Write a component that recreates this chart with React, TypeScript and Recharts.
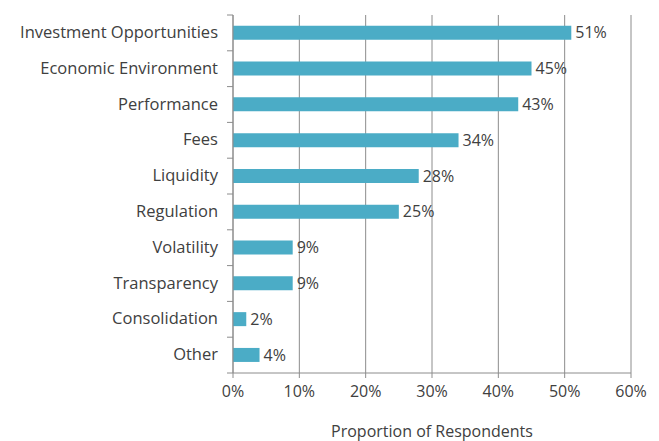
import React from 'react';
import { BarChart, Bar, XAxis, YAxis, CartesianGrid, LabelList } from 'recharts';

const categories = [
  'Investment Opportunities',
  'Economic Environment',
  'Performance',
  'Fees',
  'Liquidity',
  'Regulation',
  'Volatility',
  'Transparency',
  'Consolidation',
  'Other',
];
const shares = [51, 45, 43, 34, 28, 25, 9, 9, 2, 4];
const xTicks = [0, 10, 20, 30, 40, 50, 60];

const data = categories.map((name, i) => ({ name, value: shares[i] }));

const FONT = '"Open Sans", sans-serif';
const TEXT = '#404040';
const GRID = '#8c8c8c';

const W = 659;
const H = 441;
const M = { top: 15, right: 28, left: 0, bottom: 0 };
const Y_WIDTH = 233;
const X_HEIGHT = 68;
const band = (H - M.top - M.bottom - X_HEIGHT) / categories.length;

const CategoryTick = (props: any) => {
  const { x, y, payload, index } = props;
  const last = index === categories.length - 1;
  return (
    <g>
      <line x1={x + 8} x2={x + 2} y1={y - band / 2} y2={y - band / 2} stroke={GRID} />
      {last && <line x1={x + 8} x2={x + 2} y1={y + band / 2} y2={y + band / 2} stroke={GRID} />}
      <text x={x - 7} y={y} dy={5} textAnchor="end" fill={TEXT} fontSize={16.5} fontFamily={FONT}>
        {payload.value}
      </text>
    </g>
  );
};

export default function App() {
  return (
    <div style={{ position: 'absolute', left: 0, top: 0, background: '#fff' }}>
      <BarChart width={W} height={H} data={data} layout="vertical" margin={M} barCategoryGap="30%">
        <CartesianGrid horizontal={false} stroke={GRID} strokeWidth={1} />
        <XAxis
          type="number"
          domain={[0, 60]}
          ticks={xTicks}
          interval={0}
          height={X_HEIGHT}
          tickFormatter={(v: number) => `${v}%`}
          axisLine={{ stroke: GRID }}
          tickLine={{ stroke: GRID }}
          tickSize={5}
          tickMargin={8}
          tick={{ fill: TEXT, fontSize: 16, fontFamily: FONT }}
          label={{ value: 'Proportion of Respondents', position: 'insideBottom', offset: 4, fill: TEXT, fontSize: 16, fontFamily: FONT }}
        />
        <YAxis
          type="category"
          dataKey="name"
          width={Y_WIDTH}
          interval={0}
          axisLine={{ stroke: GRID }}
          tickLine={false}
          tick={<CategoryTick />}
        />
        <Bar dataKey="value" fill="#4BACC6" isAnimationActive={false}>
          <LabelList
            dataKey="value"
            position="right"
            offset={4}
            formatter={(v: number) => `${v}%`}
            fill={TEXT}
            fontSize={16}
            fontFamily={FONT}
          />
        </Bar>
      </BarChart>
    </div>
  );
}
